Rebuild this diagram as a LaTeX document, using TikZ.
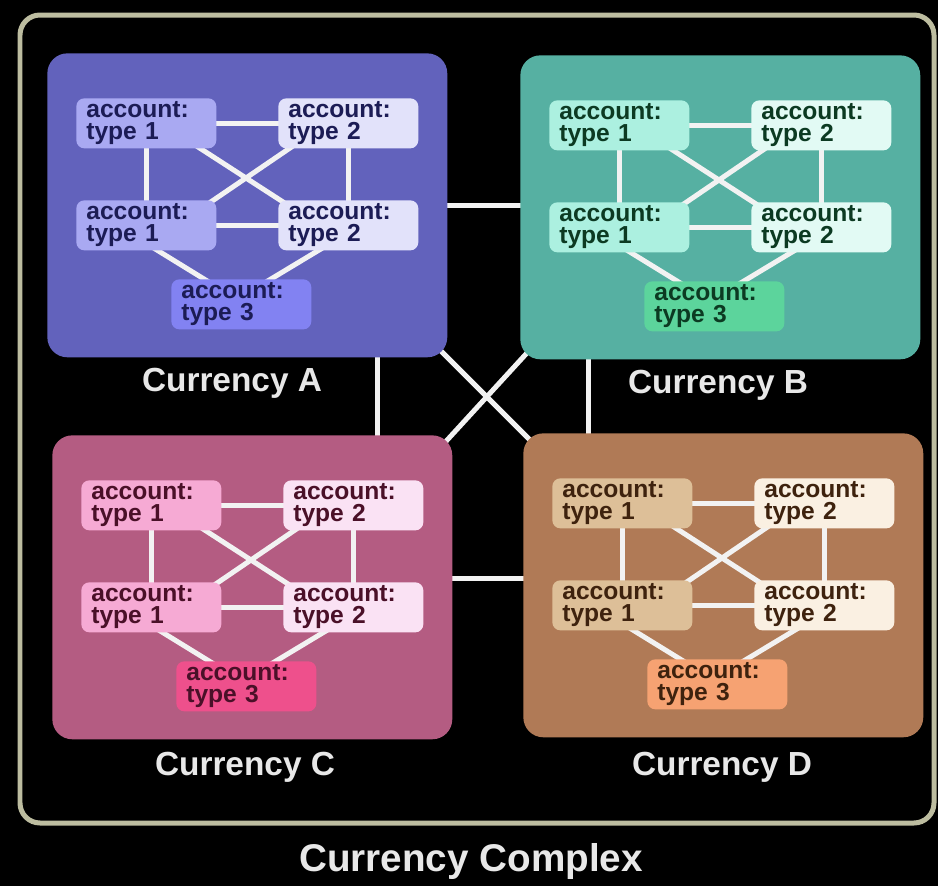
\documentclass[tikz,border=0pt]{standalone}
\usepackage{fontspec}
\setmainfont{Liberation Sans}
\usetikzlibrary{calc}
\definecolor{boxA}{HTML}{6262BC}\definecolor{ltA}{HTML}{A9A9F2}\definecolor{plA}{HTML}{E2E2FA}\definecolor{dkA}{HTML}{8282F2}\definecolor{txA}{HTML}{1C1C55}
\definecolor{boxB}{HTML}{56B0A2}\definecolor{ltB}{HTML}{ACF0E0}\definecolor{plB}{HTML}{E2FAF4}\definecolor{dkB}{HTML}{5CD49C}\definecolor{txB}{HTML}{0C3A22}
\definecolor{boxC}{HTML}{B45C82}\definecolor{ltC}{HTML}{F6AAD4}\definecolor{plC}{HTML}{FAE2F4}\definecolor{dkC}{HTML}{EE508C}\definecolor{txC}{HTML}{4A1028}
\definecolor{boxD}{HTML}{B07A56}\definecolor{ltD}{HTML}{DDBF98}\definecolor{plD}{HTML}{FAF0E2}\definecolor{dkD}{HTML}{F6A272}\definecolor{txD}{HTML}{3E220E}
\definecolor{linkc}{HTML}{F2F2F2}\definecolor{framec}{HTML}{BDBDA0}\definecolor{labc}{HTML}{E8E8E8}
\pgfdeclarelayer{bottom}\pgfdeclarelayer{links}\pgfdeclarelayer{inner}\pgfdeclarelayer{top}
\pgfsetlayers{bottom,links,main,inner,top}
\begin{document}
\begin{tikzpicture}[x=0.02cm,y=-0.02cm,
  cbox/.style={draw=none,rounded corners=0.4cm,minimum width=8cm,minimum height=6.08cm,anchor=north west,inner sep=0pt},
  acct/.style={rounded corners=0.16cm,text width=2.4cm,inner xsep=0.2cm,inner ysep=0.02cm,minimum height=1cm,align=left,anchor=north west,font=\bfseries\fontsize{14pt}{12.5pt}\selectfont},
  link/.style={draw=linkc,line width=0.1cm},
  ilink/.style={draw=linkc,line width=0.1cm,shorten <=-0.2cm,shorten >=-0.2cm},
  clabel/.style={text=labc,font=\bfseries\fontsize{19pt}{21pt}\selectfont}]
\begin{pgfonlayer}{bottom}
\fill[black] (0,0) rectangle (938,886);
\draw[framec,line width=0.1cm,rounded corners=0.4cm] (20,15) rectangle (934,823);
\end{pgfonlayer}
\useasboundingbox (0,0) rectangle (938,886);
\foreach \n/\bx/\by/\lx/\ly/\lab in {A/47/53/232/383/{Currency A},B/520/55/718/385/{Currency B},C/52/435/245/767/{Currency C},D/523/433/722/767/{Currency D}}{
  \node[cbox,fill=box\n] (\n) at (\bx,\by) {};
  \begin{pgfonlayer}{top}
  \node[acct,fill=lt\n,text=tx\n] (\n1) at ($(\n.north west)+(29,45)$) {account:\\type 1};
  \node[acct,fill=pl\n,text=tx\n] (\n2) at ($(\n.north west)+(231,45)$) {account:\\type 2};
  \node[acct,fill=lt\n,text=tx\n] (\n3) at ($(\n.north west)+(29,147)$) {account:\\type 1};
  \node[acct,fill=pl\n,text=tx\n] (\n4) at ($(\n.north west)+(231,147)$) {account:\\type 2};
  \node[acct,fill=dk\n,text=tx\n] (\n5) at ($(\n.north west)+(124,226)$) {account:\\type 3};
  \end{pgfonlayer}
  \begin{pgfonlayer}{inner}
  \draw[link] (\n1.center) -- (\n2.center);
  \draw[link] (\n3.center) -- (\n4.center);
  \draw[link] (\n1.center) -- (\n3.center);
  \draw[link] (\n2.center) -- (\n4.center);
  \draw[ilink] ($(\n1.south east)+(-16,0)$) -- ($(\n4.north west)+(2,0)$);
  \draw[ilink] ($(\n2.south west)+(11,0)$) -- ($(\n3.north east)+(-3,0)$);
  \draw[ilink] ($(\n3.south west)+(82,0)$) -- ($(\n5.north west)+(33,0)$);
  \draw[ilink] ($(\n4.south west)+(40,0)$) -- ($(\n5.north west)+(100,0)$);
  \end{pgfonlayer}
  \node[clabel] (L\n) at (\lx,\ly) {\lab};
}
\begin{pgfonlayer}{links}
\draw[link] (A.center) -- (A.center -| B.center);
\draw[link] ([yshift=0.18cm]C.center) -- ([yshift=0.18cm]C.center -| D.center);
\draw[link] ([xshift=2.6cm]A.center) -- ([xshift=2.6cm]A.center |- C.center);
\draw[link] ([xshift=-2.64cm]B.center) -- ([xshift=-2.64cm]B.center |- D.center);
\draw[link] ($(A.south east)+(-10,-10)$) -- ($(D.north west)+(10,10)$);
\draw[link] ($(B.south west)+(10,-10)$) -- ($(C.north east)+(-10,10)$);
\end{pgfonlayer}
\node[text=labc,font=\bfseries\fontsize{22pt}{24pt}\selectfont] (title) at (471,862) {Currency Complex};
\end{tikzpicture}
\end{document}
